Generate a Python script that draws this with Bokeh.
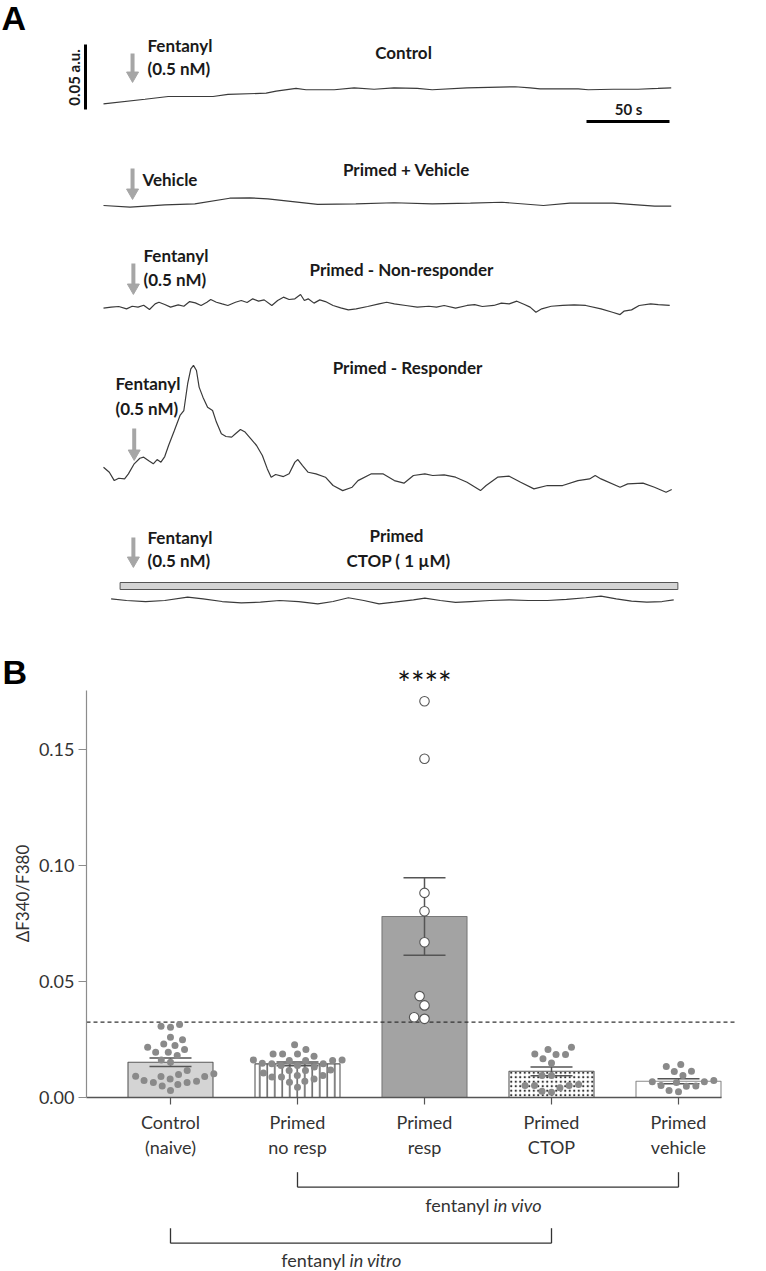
import math
from bokeh.plotting import figure
from bokeh.models import Range1d, FixedTicker, NumeralTickFormatter, ColumnDataSource
from bokeh.layouts import column
from bokeh.embed import file_html
from bokeh.resources import INLINE
from bokeh.core.properties import value

# ======================= PANEL A DATA =======================
# (time s, signal in 1e-3 a.u. relative to first sample)
control_trace = [(0, 0), (25, 3.5), (39, 5.6), (66, 5.6), (75, 7.2), (98, 8.2), (104, 9.7), (116, 11.8),
                 (122, 10.8), (139, 10.8), (151, 12.3), (163, 11.2), (175, 12.3), (189, 11.8), (198, 10.8),
                 (219, 12.3), (248, 13.1), (257, 12.3), (263, 11.5), (286, 11.5), (292, 10.8), (307, 11.2),
                 (322, 11.2), (334, 11.8), (342, 12.3)]
vehicle_trace = [(0, 0), (16, -1.3), (37, 0.5), (55, 1.3), (76, 5.6), (88, 5.9), (99, 5.1), (129, 0.8),
                 (152, 1.3), (175, 2.1), (198, 1.3), (221, 1.8), (240, 2.5), (265, 0), (281, 1.8),
                 (307, 1.8), (332, -0.5), (342, -0.5)]
nonresp_trace = [(0, 0), (4.6, 0.8), (9.2, 1.3), (13.9, -0.5), (17.3, 1.5), (20.8, 0.8), (24.2, 2.3),
                 (27.7, -1.0), (31.1, 3.3), (33.4, 4.6), (36.9, 2.8), (40.4, 0.8), (45, 2.6), (48.4, 1.5),
                 (51.9, 5.1), (55.3, 4.1), (58.8, 2.1), (62.3, 4.6), (64.6, 6.7), (68, 4.6), (71.5, 3.3),
                 (74.9, 2.1), (79.5, 4.6), (83, 5.9), (86.5, 4.4), (89.9, 7.2), (93.4, 5.4), (96.8, 6.4),
                 (101.4, 2.1), (104.9, 5.9), (108.4, 8.5), (111.8, 6.7), (115.3, 7.2), (118.7, 10.5),
                 (121, 5.9), (123.3, 7.2), (126.8, 3.9), (130.3, 6.4), (133.7, 5.1), (138.3, 2.1),
                 (142.9, 0.3), (147.5, -1.3), (152.2, -0.5), (159.1, 1.3), (166, 3.3), (170.6, 4.6),
                 (175.2, 3.3), (182.1, 2.1), (189, 0.8), (196, 1.5), (200.6, 0.8), (205.2, 2.1),
                 (212.1, 0), (219, 2.1), (223.6, 2.8), (228.2, 1.3), (235.1, 2.1), (239.7, 3.9),
                 (244.4, 3.3), (249, 5.4), (253.6, 2.8), (257, 0.8), (260.5, -3.1), (264, -0.5),
                 (269.7, 1.5), (276.6, 2.1), (283.5, 2.6), (290.5, 2.1), (299.7, -0.5), (306.6, -3.1),
                 (311.2, -4.9), (313.5, -2.3), (318.1, -1.3), (322.7, 2.1), (329.6, 3.3), (334.2, 2.8),
                 (341.1, 2.1)]
resp_trace = [(0, 0), (3.5, -3.9), (6.5, -10.3), (9.2, -8.5), (12.7, -9.0), (15, -5.1), (18.5, 2.6),
              (21.9, 6.9), (24.2, 7.7), (27.7, 4.6), (30, 2.6), (32.3, 5.9), (34.6, 3.9), (36.9, 8.2),
              (39.2, 16.7), (42.7, 28.2), (46.1, 39.8), (48.4, 43.6), (50.7, 64.2), (52.6, 75.7),
              (54.2, 78.3), (56, 74.4), (57.6, 61.6), (59.9, 53.9), (62.7, 46.2), (65.7, 43.6),
              (68, 34.7), (71, 25.7), (73.8, 23.6), (77.2, 23.1), (79.5, 25.7), (82.5, 29.0),
              (85.3, 27.0), (88.8, 21.8), (92.2, 16.7), (95.7, 9.0), (98.7, -1.3), (101, -7.7),
              (103.7, -5.6), (108.4, -7.2), (111.8, -5.1), (115.3, 3.9), (117.1, 5.9), (119.9, 1.3),
              (123.3, -3.9), (128, -5.1), (133.7, -7.7), (138.3, -14.1), (144.1, -18.0), (149.8, -15.4),
              (153.3, -10.3), (161.4, -5.1), (168.3, -5.1), (175.2, -10.3), (181, -12.3), (186.7, -6.4),
              (193.6, -5.1), (198.3, -6.4), (205.2, -5.9), (212.1, -7.7), (219, -11.6), (227.1, -18.0),
              (230.5, -14.1), (237.4, -7.7), (244.4, -6.9), (251.3, -11.6), (259.3, -16.7),
              (267.4, -14.1), (276.6, -14.1), (285.8, -10.3), (292.8, -9.0), (296.2, -6.4),
              (299.7, -9.0), (311.2, -15.4), (315.8, -12.8), (325, -12.3), (331.9, -15.4),
              (338.9, -19.3), (342.3, -17.2)]
ctop_trace = [(4.6, 0), (13.9, -1.3), (25.4, -2.1), (36.9, -1.3), (50.7, 1.3), (60, 0), (71.5, -2.1),
              (83, -3.1), (94.5, -2.6), (106, -1.3), (117.6, -2.1), (129.1, -3.9), (138.3, -2.1),
              (147.5, 0.8), (156.8, -1.3), (166, -3.9), (175.2, -2.6), (186.7, -0.8), (193.6, 0.5),
              (202.9, -1.3), (212.1, -2.8), (221.3, -2.1), (232.8, -1.3), (244.4, -0.8), (255.9, -1.3),
              (267.4, -1.3), (278.9, -0.5), (290.5, 0.8), (299.7, 2.1), (308.9, 0), (318.1, -1.8),
              (327.3, -2.6), (336.5, -2.1), (343.5, -0.8)]
drug_onset_s = [17.5, 17.5, 18.0, 18.5, 18.0]      # arrows
ctop_window_s = [10, 346]
scale_bar_au = 0.05
scale_bar_s = 50

# ======================= PANEL B DATA =======================
groups = ["Control\n(naive)", "Primed\nno resp", "Primed\nresp", "Primed\nCTOP", "Primed\nvehicle"]
bar_means = [0.0152, 0.0145, 0.0780, 0.0113, 0.0070]
bar_sems = [0.0018, 0.0008, 0.0167, 0.0019, 0.0011]
threshold = 0.0325
y_ticks = [0.0, 0.05, 0.10, 0.15]
control_pts = [0.0315, 0.0303, 0.0307, 0.0260, 0.0249, 0.0231, 0.0224, 0.0217, 0.0207, 0.0195, 0.0195,
               0.0181, 0.0162, 0.0152, 0.0116, 0.0102, 0.0091, 0.0099, 0.0091, 0.0092, 0.0080, 0.0065,
               0.0070, 0.0065, 0.0073, 0.0056, 0.0050, 0.0030]
noresp_pts = [0.0227, 0.0207, 0.0188, 0.0188, 0.0188, 0.0178, 0.0162, 0.0162, 0.0159, 0.0159, 0.0159,
              0.0148, 0.0145, 0.0145, 0.0138, 0.0138, 0.0131, 0.0119, 0.0116, 0.0116, 0.0106, 0.0095,
              0.0095, 0.0088, 0.0088, 0.0080, 0.0070, 0.0066, 0.0044]
resp_pts = [0.1708, 0.1460, 0.0882, 0.0803, 0.0669, 0.0437, 0.0397, 0.0346, 0.0339]
ctop_pts = [0.0217, 0.0207, 0.0188, 0.0185, 0.0185, 0.0167, 0.0149, 0.0095, 0.0095, 0.0056, 0.0052,
            0.0052, 0.0052, 0.0042, 0.0027, 0.0023]
vehicle_pts = [0.0142, 0.0134, 0.0113, 0.0112, 0.0095, 0.0073, 0.0068, 0.0068, 0.0065, 0.0050, 0.0052,
               0.0048, 0.0030, 0.0025]
significance = "****"

FONT = "Lato"
W = 766
HA = 620
HB = 651

# ======================= PANEL A =======================
PX_PER_S = 83 / 50.0
PX_PER_MAU = 65 / 50.0
X0 = 103.0


def tx(X):
    return (X - X0) / PX_PER_S


def ty(Y):
    return -Y / PX_PER_MAU


pA = figure(width=W, height=HA, output_backend="svg", toolbar_location=None,
            x_range=Range1d(tx(0), tx(W)), y_range=Range1d(ty(HA), ty(0)),
            x_axis_location=None, y_axis_location=None, min_border=0,
            min_border_left=0, min_border_right=0, min_border_top=0, min_border_bottom=0,
            outline_line_color=None)
pA.xgrid.visible = False
pA.ygrid.visible = False

traces = [control_trace, vehicle_trace, nonresp_trace, resp_trace, ctop_trace]
baselines = [103.3, 205.0, 307.7, 466.7, 598.3]
for tr, base in zip(traces, baselines):
    ts = [a for a, b in tr]
    vs = [ty(base) + b for a, b in tr]
    pA.line(ts, vs, line_color="#3a3a3a", line_width=1.2)

# arrows
arrow_px = [(53, 80), (168, 197), (263, 292), (428, 458), (537, 565)]
for t_on, (ytop, ytip) in zip(drug_onset_s, arrow_px):
    pA.segment(x0=[t_on], y0=[ty(ytop)], x1=[t_on], y1=[ty(ytip - 8)], line_color="#a6a6a6", line_width=4)
    pA.scatter(x=[t_on], y=[ty(ytip - 5)], marker="inverted_triangle", size=12,
               fill_color="#a6a6a6", line_color="#a6a6a6")

# CTOP application bar
pA.quad(left=[ctop_window_s[0]], right=[ctop_window_s[1]], top=[ty(582)], bottom=[ty(589)],
        fill_color="#d4d4d4", line_color="#555555", line_width=1)

# scale bars
pA.segment(x0=[tx(85)], y0=[ty(109)], x1=[tx(85)], y1=[ty(109) + scale_bar_au * 1000],
           line_color="black", line_width=3)
pA.segment(x0=[tx(586)], y0=[ty(121)], x1=[tx(586) + scale_bar_s], y1=[ty(121)],
           line_color="black", line_width=3)


def atext(X, Y, s, align="left", size="17px", style="bold", angle=0.0, color="#1a1a1a", font=FONT):
    pA.text(x=[tx(X)], y=[ty(Y)], text=[s], text_align=align, text_baseline="middle",
            text_font=value(font), text_font_size=size, text_font_style=style,
            text_color=color, angle=angle)


atext(1, 17, "A", size="34px", font="Liberation Sans", color="black")
atext(73, 77, "0.05 a.u.", align="center", size="15px", angle=math.pi / 2)
atext(628, 108, "50 s", align="center", size="15px")
atext(147, 45, "Fentanyl")
atext(147, 68, "(0.5 nM)")
atext(403, 52, "Control", align="center")
atext(142, 179, "Vehicle")
atext(406, 169, "Primed + Vehicle", align="center")
atext(143, 255, "Fentanyl")
atext(143, 279, "(0.5 nM)")
atext(401, 269, "Primed - Non-responder", align="center")
atext(115, 383, "Fentanyl")
atext(115, 408, "(0.5 nM)")
atext(407, 367, "Primed - Responder", align="center")
atext(147, 537, "Fentanyl")
atext(147, 560, "(0.5 nM)")
atext(396, 535, "Primed", align="center")
atext(398, 560, "CTOP ( 1 \u00b5M)", align="center")

# ======================= PANEL B =======================
XPX = 127.0      # px per category
YPX = 2320.0     # px per unit
TOP = HA          # page y of panel B top


def vY(Y):
    return (1097 - Y) / YPX


def cX(X):
    return (X - 170) / XPX


pB = figure(width=W, height=HB, output_backend="svg", toolbar_location=None,
            x_range=Range1d(cX(0), cX(W)), y_range=Range1d(vY(TOP + HB), vY(TOP)),
            x_axis_location=None, y_axis_location="left", min_border=0,
            min_border_left=0, min_border_right=0, min_border_top=0, min_border_bottom=0,
            outline_line_color=None)
pB.xgrid.visible = False
pB.ygrid.visible = False
ax = pB.yaxis[0]
ax.fixed_location = cX(86)
ax.bounds = (0, vY(690))
ax.ticker = FixedTicker(ticks=y_ticks)
ax.formatter = NumeralTickFormatter(format="0.00")
ax.minor_tick_line_color = None
ax.major_tick_in = 0
ax.major_tick_out = 8
ax.axis_line_color = "#8c8c8c"
ax.major_tick_line_color = "#8c8c8c"
ax.axis_line_width = 1.2
ax.major_label_text_font = FONT
ax.major_label_text_font_size = "18px"
ax.major_label_text_color = "#333333"
ax.major_label_standoff = 4

xs = list(range(len(groups)))
bar_src = ColumnDataSource(dict(
    x=xs, top=bar_means,
    fill=["#d4d4d4", "white", "#a3a3a3", "white", "white"],
    hatch=[" ", "vertical_line", " ", "dot", " "],
    hscale=[7.5, 7.5, 7.5, 4.5, 7.5],
    hweight=[1.2, 1.2, 1.2, 0.6, 1.2],
    edge=["#5a5a5a", "#5a5a5a", "#7a7a7a", "#5a5a5a", "#8a8a8a"],
))
pB.vbar(x="x", top="top", bottom=0, width=85 / XPX, source=bar_src, fill_color="fill",
        line_color="edge", line_width=1.1, hatch_pattern="hatch", hatch_color="#333333",
        hatch_scale="hscale", hatch_weight="hweight")

# threshold
pB.segment(x0=[cX(86)], y0=[threshold], x1=[cX(735)], y1=[threshold],
           line_color="#333333", line_width=1.3, line_dash="4 3")

# error bars
cap = 42 / XPX / 2
err_color = "#555555"
lo = [m - s for m, s in zip(bar_means, bar_sems)]
hi = [m + s for m, s in zip(bar_means, bar_sems)]
pB.segment(x0=xs, y0=lo, x1=xs, y1=hi, line_color=err_color, line_width=1.5)
pB.segment(x0=[x - cap for x in xs], y0=hi, x1=[x + cap for x in xs], y1=hi,
           line_color=err_color, line_width=1.5)
pB.segment(x0=[x - cap for x in xs], y0=lo, x1=[x + cap for x in xs], y1=lo,
           line_color=err_color, line_width=1.5)


def swarm(vals, dot_px):
    order = sorted(range(len(vals)), key=lambda i: vals[i])
    placed = []
    offs = [0.0] * len(vals)
    for i in order:
        y = vals[i] * YPX
        cands = [0.0]
        for px, py in placed:
            dy = y - py
            if abs(dy) < dot_px:
                dx = math.sqrt(dot_px ** 2 - dy ** 2)
                cands += [px - dx, px + dx]
        cands.sort(key=abs)
        for c in cands:
            if all((c - px) ** 2 + (y - py) ** 2 >= dot_px ** 2 - 1e-6 for px, py in placed):
                offs[i] = c
                break
        placed.append((offs[i], y))
    return [o / XPX for o in offs]


gray_sets = [(0, control_pts), (1, noresp_pts), (3, ctop_pts), (4, vehicle_pts)]
for gi, pts in gray_sets:
    offs = swarm(pts, 9.5)
    pB.scatter(x=[gi + o for o in offs], y=pts, size=7, fill_color="#8a8a8a", line_color=None)
offs = swarm(resp_pts, 10.5)
pB.scatter(x=[2 + o for o in offs], y=resp_pts, size=9.5, fill_color="white",
           line_color="#555555", line_width=1.1)

# x baseline & ticks
pB.segment(x0=[cX(86)], y0=[0], x1=[cX(721)], y1=[0], line_color="#555555", line_width=1.3)
pB.segment(x0=xs, y0=[0] * 5, x1=xs, y1=[vY(1104)] * 5, line_color="#555555", line_width=1.2)

line1 = [g.split("\n")[0] for g in groups]
line2 = [g.split("\n")[1] for g in groups]
tkw = dict(text_align="center", text_baseline="middle", text_font=value(FONT),
           text_font_size="18px", text_color="#333333")
pB.text(x=xs, y=[vY(1121)] * 5, text=line1, **tkw)
pB.text(x=xs, y=[vY(1146)] * 5, text=line2, **tkw)

# brackets
bk = dict(line_color="#333333", line_width=1.3)
pB.segment(x0=[1, 1, 4], y0=[vY(1186.7), vY(1171.7), vY(1171.7)],
           x1=[4, 1, 4], y1=[vY(1186.7), vY(1186.7), vY(1186.7)], **bk)
pB.segment(x0=[0, 0, 3], y0=[vY(1242.7), vY(1227.7), vY(1227.7)],
           x1=[3, 0, 3], y1=[vY(1242.7), vY(1242.7), vY(1242.7)], **bk)
bt = dict(text_baseline="middle", text_font=value(FONT), text_font_size="18px", text_color="#333333")
pB.text(x=[cX(489)], y=[vY(1204)], text=["fentanyl"], text_align="right", **bt)
pB.text(x=[cX(493)], y=[vY(1204)], text=["in vivo"], text_align="left", text_font_style="italic", **bt)
pB.text(x=[cX(345)], y=[vY(1259)], text=["fentanyl"], text_align="right", **bt)
pB.text(x=[cX(349)], y=[vY(1259)], text=["in vitro"], text_align="left", text_font_style="italic", **bt)

# significance
pB.text(x=[2], y=[vY(682)], text=[significance], text_align="center", text_baseline="middle",
        text_font=value(FONT), text_font_size="32px", text_color="#111111")

# panel label and y label
pB.text(x=[cX(2)], y=[vY(671)], text=["B"], text_align="left", text_baseline="middle",
        text_font=value("Liberation Sans"), text_font_size="34px", text_font_style="bold",
        text_color="black")
pB.text(x=[cX(22)], y=[vY(893)], text=["\u0394F340/F380"], text_align="center", text_baseline="middle",
        text_font=value(FONT), text_font_size="17px", text_color="#333333", angle=math.pi / 2)

layout = column(pA, pB, spacing=0)
open("out.html", "w").write(file_html(layout, INLINE))
